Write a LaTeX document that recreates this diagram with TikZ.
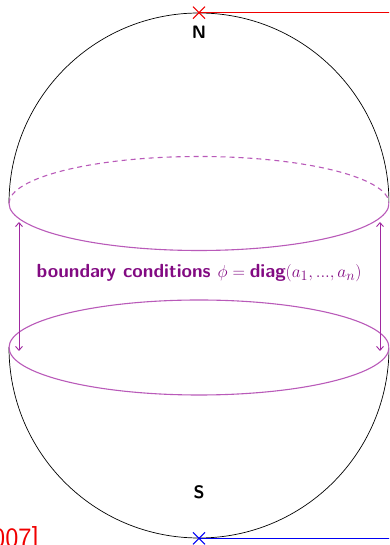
\documentclass[tikz,border=0pt]{standalone}
\usepackage{fontspec}
\usetikzlibrary{shapes.misc,arrows.meta}
\definecolor{txtpurple}{RGB}{130,10,130}
\definecolor{ellpurple}{RGB}{185,90,185}
\definecolor{arrpurple}{RGB}{160,40,160}
\definecolor{polered}{RGB}{240,0,0}
\definecolor{poleblue}{RGB}{0,0,245}
\begin{document}
\begin{tikzpicture}[x=1pt,y=1pt,
  sphere/.style={black, line width=0.7pt},
  ring/.style={ellpurple, line width=1.1pt},
  bc/.style={arrpurple, line width=0.9pt, {Straight Barb[length=4pt,width=7pt]}-{Straight Barb[length=4pt,width=7pt]}},
  pole/.style={cross out, draw, line width=1pt, inner sep=0pt, minimum size=11pt},
  poleline/.style={line width=1.2pt},
  polelabel/.style={font=\fontsize{18}{20}\selectfont\sffamily\bfseries},
]
\useasboundingbox (0,0) rectangle (389,545);
\clip (0,0) rectangle (389,545);
% sphere caps
\draw[sphere] (9,341.5) arc[start angle=180, end angle=0, x radius=190, y radius=190.5];
\draw[sphere] (9,197.5) arc[start angle=180, end angle=360, x radius=190, y radius=190.5];
% upper ring
\draw[ring, dashed, dash pattern=on 5pt off 4pt] (9,341.5) arc[start angle=180, end angle=0, x radius=190, y radius=47];
\draw[ring] (9,341.5) arc[start angle=180, end angle=360, x radius=190, y radius=47];
% lower ring
\draw[ring] (199,197.5) ellipse[x radius=190, y radius=47.5];
% boundary arrows
\coordinate (lu) at (19,323);
\coordinate (ll) at (19,194);
\coordinate (ru) at (380,323);
\coordinate (rl) at (380,194);
\draw[bc] (lu) -- (ll);
\draw[bc] (ru) -- (rl);
\node[txtpurple, font=\fontsize{19}{22}\selectfont\sffamily\bfseries] (bctext) at (199,272)
  {boundary conditions $\phi=\textbf{diag}(a_1,...,a_n)$};
% poles
\node[pole, polered] (nx) at (199,532.3) {};
\coordinate (nend) at (395,532.3);
\draw[polered, poleline] (nx.center) -- (nend);
\node[polelabel] (N) at (199,513) {N};
\node[pole, poleblue] (sx) at (199,6.7) {};
\coordinate (send) at (395,6.7);
\draw[poleblue, poleline] (sx.center) -- (send);
\node[polelabel] (S) at (199,53) {S};
% reference (cut off)
\node[polered, anchor=base east, inner sep=0pt, font=\fontsize{28}{33}\selectfont\sffamily] (ref) at (39.5,-2) {2007]};
\end{tikzpicture}
\end{document}
